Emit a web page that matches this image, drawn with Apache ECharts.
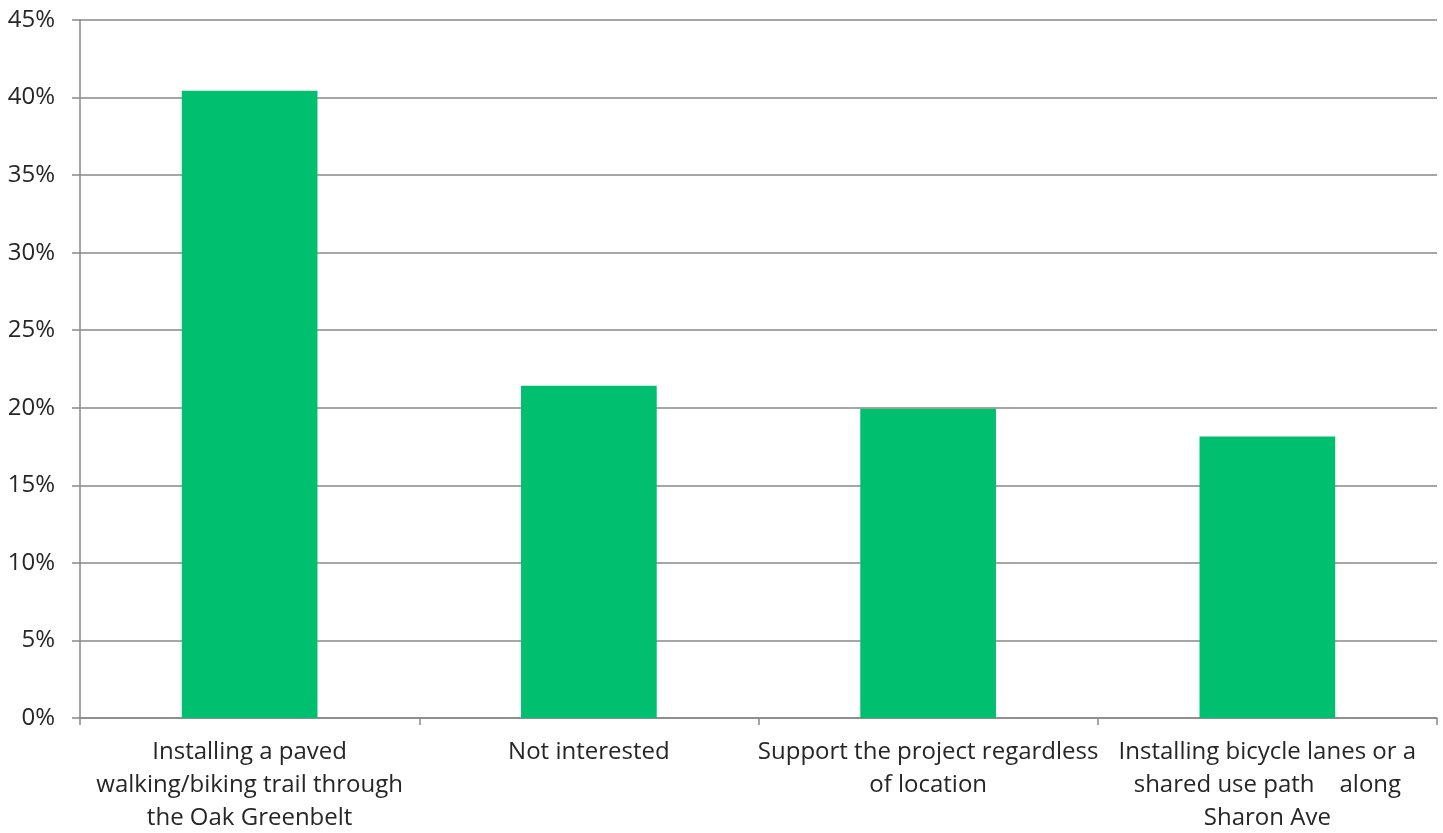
<!DOCTYPE html>
<html><head><meta charset="utf-8">
<script src="https://cdn.jsdelivr.net/npm/echarts@6/dist/echarts.min.js"></script>
<style>html,body{margin:0;padding:0;background:#fff}#c{width:1443px;height:833px}</style>
</head><body><div id="c"></div>
<script>
const categories = [
  "Installing a paved\nwalking/biking trail through\nthe Oak Greenbelt",
  "Not interested",
  "Support the project regardless\nof location",
  "Installing bicycle lanes or a\nshared use path    along\nSharon Ave"
];
const values = [40.44, 21.42, 19.94, 18.15];
const yTicks = { min: 0, max: 45, interval: 5 };

const chart = echarts.init(document.getElementById('c'), null, { renderer: 'canvas' });
chart.setOption({
  animation: false,
  grid: { left: 80, right: 6, top: 20, bottom: 115, containLabel: false, outerBoundsMode: 'none' },
  xAxis: {
    type: 'category',
    data: categories,
    axisLine: { lineStyle: { color: '#888', width: 1.5 } },
    axisTick: { show: true, length: 7, lineStyle: { color: '#888', width: 1.5 } },
    axisLabel: { color: '#262626', fontSize: 24, fontFamily: 'Open Sans', lineHeight: 33, margin: 18, interval: 0 }
  },
  yAxis: {
    type: 'value',
    min: yTicks.min, max: yTicks.max, interval: yTicks.interval,
    axisLine: { show: true, lineStyle: { color: '#888', width: 1.5 } },
    axisTick: { show: true, length: 8, lineStyle: { color: '#888', width: 1.5 } },
    splitLine: { lineStyle: { color: '#888', width: 1.5 } },
    axisLabel: { color: '#262626', fontSize: 24, fontFamily: 'Open Sans', margin: 25, formatter: v => v + '%' }
  },
  series: [{
    type: 'bar',
    data: values,
    barWidth: '40%',
    itemStyle: { color: '#00BF6F' }
  }]
});
</script></body></html>
